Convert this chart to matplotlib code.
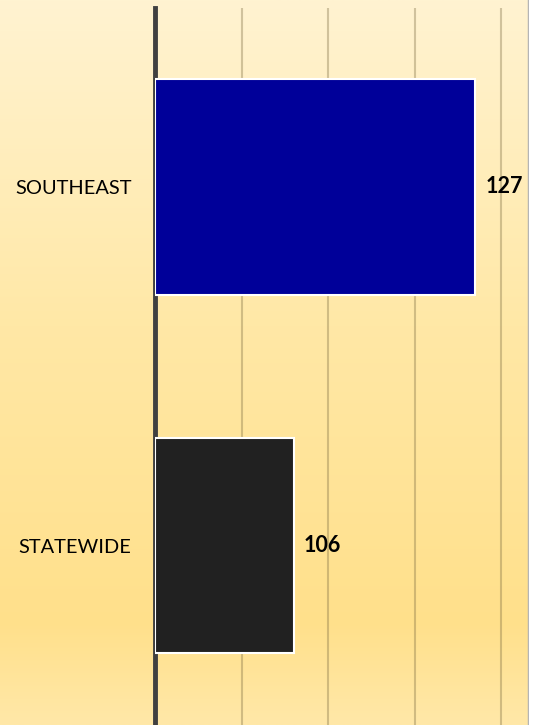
import numpy as np
import matplotlib.pyplot as plt
from matplotlib.colors import LinearSegmentedColormap

plt.rcParams['font.family'] = ['Lato', 'DejaVu Sans']

# ---------------------------------------------------------------------------
# Data
# ---------------------------------------------------------------------------
REGIONS = ["SOUTHEAST", "STATEWIDE"]
VALUES = [127, 106]
BAR_COLORS = ["#000099", "#212121"]

X_MIN, X_MAX = 90, 133.2
X_TICKS = [100, 110, 120, 130]

W, H = 540, 725

fig = plt.figure(figsize=(W / 100, H / 100), dpi=100, facecolor="white")

# background gradient (light cream on top, deeper yellow towards the bottom)
bg = fig.add_axes([0, 0, 529 / W, 1], zorder=0)
grad = LinearSegmentedColormap.from_list(
    "bg", [(0.0, "#FFF3D1"), (0.45, "#FFE8A6"), (0.86, "#FFE08B"), (1.0, "#FFE8A8")]
)
bg.imshow(np.linspace(0, 1, 256).reshape(-1, 1), aspect="auto", cmap=grad,
          extent=(0, 1, 0, 1), origin="upper")
bg.set_xlim(0, 1)
bg.set_ylim(0, 1)
bg.axvline(1, color="#B5B5B5", linewidth=2.5)
bg.axis("off")

ax = fig.add_axes([155 / W, 0, (529 - 155) / W, (H - 7.5) / H], zorder=1)
ax.patch.set_alpha(0)

ypos = np.arange(len(REGIONS))
ax.barh(ypos, [v - X_MIN for v in VALUES], left=X_MIN, height=0.6,
        color=BAR_COLORS, edgecolor="white", linewidth=1.5, zorder=3)

for y, v in zip(ypos, VALUES):
    ax.annotate(str(v), xy=(v, y), xytext=(7.5, 0), textcoords="offset points",
                ha="left", va="center", fontsize=15.5, fontweight="bold",
                color="black")

ax.set_xlim(X_MIN, X_MAX)
ax.set_ylim(1.5, -0.5)
ax.set_xticks(X_TICKS)
ax.set_xticklabels([])
ax.tick_params(axis="x", length=0)
ax.grid(axis="x", color="#7a6a40", alpha=0.35, linewidth=1.5, zorder=0)
ax.set_axisbelow(True)

ax.set_yticks(ypos)
ax.set_yticklabels(REGIONS, fontsize=14.4)
ax.tick_params(axis="y", length=0, pad=17)

for side in ["top", "right", "bottom"]:
    ax.spines[side].set_visible(False)
ax.spines["left"].set_color("#404040")
ax.spines["left"].set_linewidth(3.5)

fig.savefig("out.png", dpi=100, facecolor="white")
